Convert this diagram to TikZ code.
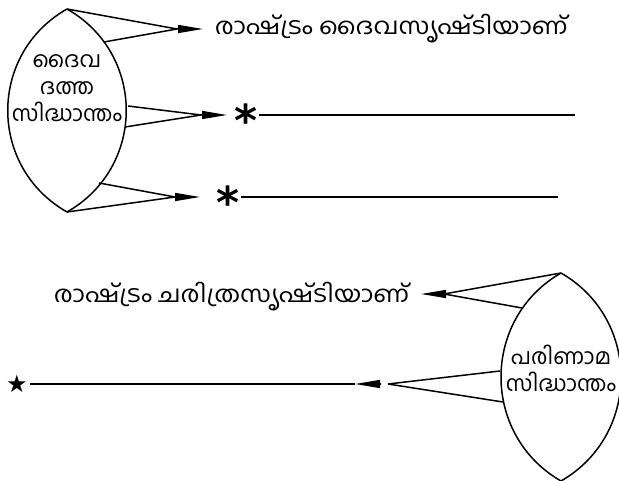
\documentclass[tikz,border=0pt]{standalone}
\usepackage{fontspec}
\newfontfamily\mlfont[Script=Malayalam]{Hind Kochi}
\newfontfamily\mlwide[Script=Malayalam,FakeStretch=1.11]{Hind Kochi}
\newfontfamily\symfont{DejaVu Sans}
\usetikzlibrary{arrows.meta}

\begin{document}
\begin{tikzpicture}[x=1pt,y=-1pt,line width=1.5pt,
  mal/.style={font=\mlfont\fontsize{22}{27}\selectfont, inner sep=0pt},
  say/.style={font=\mlwide\fontsize{23}{27}\selectfont, inner sep=0pt},
  ast/.style={font=\symfont\bfseries\fontsize{44}{44}\selectfont, inner sep=1pt,
              text height=29pt, text depth=-9pt},
  starbox/.style={font=\symfont\fontsize{24}{24}\selectfont, inner sep=1pt},
  arr/.style={-{Triangle[length=25pt,width=8pt]}}]
\useasboundingbox (0,0) rectangle (619,481);

  % divine theory lens
  \coordinate (atop) at (67,9);
  \coordinate (abot) at (67,212);
  \draw (atop) .. controls +(-79,45) and +(-79,-45) .. (abot)
        .. controls +(79,-45) and +(79,45) .. (atop);
  \node[mal, align=center] (alabel) at (67,88) {ദൈവ\\ദത്ത\\സിദ്ധാന്തം};

  \coordinate (a1) at (104,42);
  \coordinate (a2) at (128,106);
  \coordinate (a3) at (125,127);
  \coordinate (a4) at (99,183);

  % first arrow
  \coordinate (j1) at (177,29);
  \coordinate (t1) at (203,29);
  \draw[arr] (atop) -- (j1) -- (t1);
  \draw (a1) -- (j1);
  \node[say, anchor=west] (txt1) at (214,29) {രാഷ്‌ട്രം ദൈവസൃഷ്‌ടിയാണ്};

  % second arrow
  \coordinate (j2) at (201,115);
  \coordinate (t2) at (227,115);
  \draw[arr] (a2) -- (j2) -- (t2);
  \draw (a3) -- (j2);
  \node[ast] (s1) at (246,115) {\raisebox{-7pt}{*}};
  \coordinate (e1) at (575,115);
  \draw (s1) -- (e1);

  % third arrow
  \coordinate (j3) at (175,197);
  \coordinate (t3) at (200,197);
  \draw[arr] (a4) -- (j3) -- (t3);
  \draw (abot) -- (j3);
  \node[ast] (s2) at (228,197) {\raisebox{-7pt}{*}};
  \coordinate (e2) at (558,197);
  \draw (s2) -- (e2);

  % evolution theory lens
  \coordinate (btop) at (561,273);
  \coordinate (bbot) at (561,481);
  \draw (btop) .. controls +(-80,46) and +(-80,-46) .. (bbot)
        .. controls +(80,-46) and +(80,46) .. (btop);
  \node[mal, align=center] (blabel) at (561,368) {പരിണാമ\\സിദ്ധാന്തം};

  \coordinate (b1) at (522,308);
  \coordinate (b2) at (500,371);
  \coordinate (b3) at (503,402);

  % fourth arrow
  \coordinate (j4) at (444,294);
  \coordinate (t4) at (421,294);
  \draw[arr] (btop) -- (j4) -- (t4);
  \draw (b1) -- (j4);
  \node[say, anchor=east] (txt2) at (410,297) {രാഷ്‌ട്രം ചരിത്രസൃഷ്‌ടിയാണ്};

  % fifth arrow
  \coordinate (j5) at (388,384);
  \coordinate (h5) at (380,384);
  \coordinate (t5) at (355,384);
  \draw (b2) -- (j5);
  \draw (b3) -- (j5);
  \draw[arr] (h5) -- (t5);
  \node[starbox] (s3) at (17,384) {★};
  \draw (s3) -- (t5);
\end{tikzpicture}
\end{document}
